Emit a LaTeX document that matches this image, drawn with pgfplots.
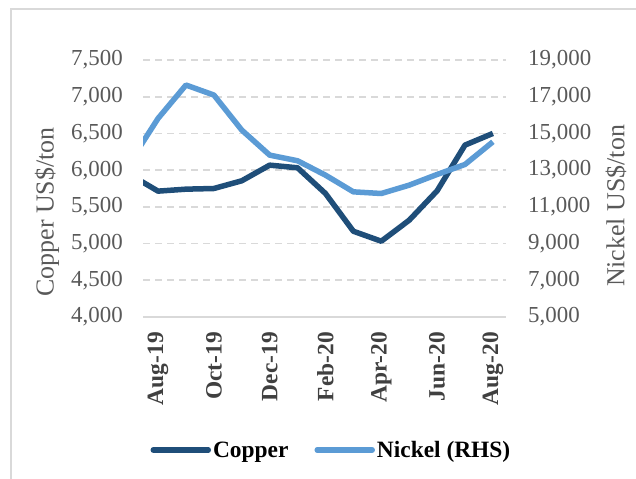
\documentclass[border=0pt]{standalone}
\usepackage{pgfplots}
\pgfplotsset{compat=1.18}
\usepackage{fontspec}
\setmainfont{Liberation Serif}
\definecolor{copperc}{HTML}{1F4E79}
\definecolor{nickelc}{HTML}{5B9BD5}
\definecolor{gridc}{HTML}{D9D9D9}
\definecolor{tickc}{HTML}{595959}
\definecolor{xtickc}{HTML}{404040}
\begin{document}
\begin{tikzpicture}
\useasboundingbox (0,0) rectangle (636bp,479bp);
\pgfplotsset{
  common/.style={
    scale only axis, width=363bp, height=257bp,
    at={(143bp,162bp)}, anchor=south west,
    xmin=-0.54, xmax=12.47,
    major tick length=0pt,
    scaled y ticks=false,
    /pgf/number format/.cd, 1000 sep={,}, assume math mode=true, /pgfplots/.cd,
    yticklabel style={font=\fontsize{23}{26}\selectfont, text=tickc, inner sep=0pt},
  }
}
\begin{axis}[common,
  ymin=4000, ymax=7500, ytick={4000,4500,...,7500},
  axis x line*=bottom, axis y line*=left,
  y axis line style={draw=none},
  x axis line style={draw=gridc, line width=1.8bp, -},
  xtick={0,2,...,12},
  xticklabels={Aug-19,Oct-19,Dec-19,Feb-20,Apr-20,Jun-20,Aug-20},
  xticklabel style={rotate=90, anchor=east, inner sep=0pt, xshift=-15bp, font=\fontsize{23.5}{26}\selectfont\bfseries, text=xtickc},
  yticklabel style={anchor=east, xshift=-20bp},
  ymajorgrids,
  major grid style={draw=gridc, line width=1.8bp, dash pattern=on 7bp off 5bp},
  ylabel={Copper US\$/ton},
  ylabel style={at={(axis description cs:-0.2645,0.4086)}, anchor=center, rotate=0, font=\fontsize{26}{28}\selectfont, text=tickc},
  legend style={at={(0.519,-0.5175)}, anchor=center, draw=none, fill=none, legend columns=2,
     font=\fontsize{23.5}{26}\selectfont\bfseries, inner sep=0pt,
     /tikz/every even column/.append style={column sep=24bp}},
  legend image code/.code={\draw[#1, line cap=round] (0bp,0bp) -- (55bp,0bp);},
]
\addplot[copperc, line width=5.5bp, line join=round] coordinates {
(-1,5937) (0,5714) (1,5741) (2,5750) (3,5855) (4,6068) (5,6032) (6,5682)
(7,5168) (8,5032) (9,5318) (10,5718) (11,6341) (12,6500)};
\addlegendentry{Copper}
\addlegendimage{nickelc, line width=5.5bp}
\addlegendentry{Nickel (RHS)}
\end{axis}
\begin{axis}[common,
  ymin=5000, ymax=19000, ytick={5000,7000,...,19000},
  axis x line=none, axis y line*=right,
  y axis line style={draw=none},
  yticklabel style={anchor=west, xshift=22bp},
  ylabel={Nickel US\$/ton},
  ylabel style={at={(axis description cs:1.303,0.432)}, anchor=center, rotate=0, font=\fontsize{26}{28}\selectfont, text=tickc},
]
\addplot[nickelc, line width=5.5bp, line join=round] coordinates {
(-1,13450) (0,15818) (1,17636) (2,17091) (3,15182) (4,13818) (5,13510) (6,12727)
(7,11818) (8,11727) (9,12182) (10,12764) (11,13309) (12,14544)};
\end{axis}
\draw[gridc, line width=2bp] (11bp,0bp) -- (11bp,470bp) -- (636bp,470bp);
\end{tikzpicture}
\end{document}
